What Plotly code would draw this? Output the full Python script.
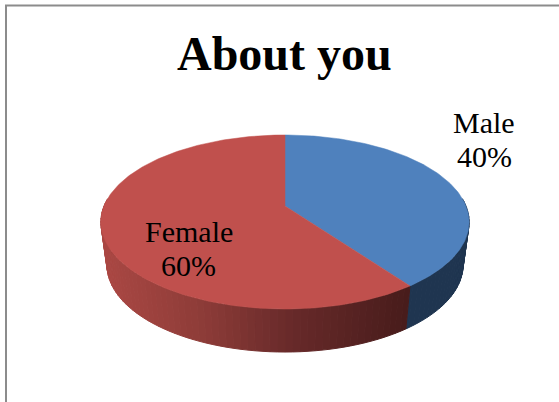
import math
import plotly.graph_objects as go

# Data
title_text = "About you"
categories = ["Male", "Female"]
values = [40, 60]
top_colors = ["#4f81bd", "#c0504d"]

# Projection of the tilted disc onto the page, in page pixels
W, H = 559, 402
CX, CY = 285, 206
RX = 181
PERSP = -0.1839
YA = 46.2
DEPTH = 43
BOTTOM_SCALE = 0.967


def rim(theta_deg, bottom=False):
    t = math.radians(theta_deg)
    u, v = math.sin(t), -math.cos(t)
    d = 1 + PERSP * v
    x = RX * u / d
    y = (YA * v + CY) / d
    if bottom:
        return CX + x * BOTTOM_SCALE, y + DEPTH
    return CX + x, y


def lerp_color(stops, x):
    for (x0, c0), (x1, c1) in zip(stops, stops[1:]):
        if x <= x1:
            f = max(0, (x - x0) / (x1 - x0))
            return "rgb({},{},{})".format(*[round(a + (b - a) * f) for a, b in zip(c0, c1)])
    return "rgb({},{},{})".format(*stops[-1][1])


wall_stops = [
    [(100, (31, 53, 80)), (469, (31, 53, 80))],
    [(100, (172, 72, 68)), (200, (142, 60, 56)), (290, (104, 42, 42)), (405, (72, 28, 27))],
]

fig = go.Figure()
total = sum(values)
angles = [0]
for val in values:
    angles.append(angles[-1] + 360 * val / total)

# Side wall, front half only, built from the slice angles
for i in range(len(values)):
    a0, a1 = max(angles[i], 85), min(angles[i + 1], 275)
    step = 2
    t = a0
    while t < a1:
        t2 = min(t + step, a1)
        p = [rim(t), rim(t2), rim(t2, True), rim(t, True), rim(t)]
        xm = sum(q[0] for q in p[:4]) / 4
        col = lerp_color(wall_stops[i], xm)
        fig.add_trace(go.Scatter(
            x=[q[0] for q in p], y=[q[1] for q in p], mode="lines",
            fill="toself", fillcolor=col, line=dict(color=col, width=1),
            hoverinfo="skip", showlegend=False,
        ))
        t = t2

# Top face slices
for i, cat in enumerate(categories):
    n = max(2, int(angles[i + 1] - angles[i]))
    pts = [rim(angles[i] + (angles[i + 1] - angles[i]) * k / n) for k in range(n + 1)]
    xs = [CX] + [q[0] for q in pts] + [CX]
    ys = [CY] + [q[1] for q in pts] + [CY]
    fig.add_trace(go.Scatter(
        x=xs, y=ys, mode="lines", fill="toself", fillcolor=top_colors[i],
        line=dict(color=top_colors[i], width=0.5), name=cat,
        hoverinfo="name", showlegend=False,
    ))

# Labels (two lines each, spaced as in the reference)
label_pos = {"Male": (484, 122), "Female": (188.5, 231)}
for cat, val in zip(categories, values):
    lx, ly = label_pos[cat]
    pct = f"{round(100 * val / total)}%"
    for txt, dy in ((cat, 0), (pct, 34)):
        fig.add_annotation(
            x=lx, y=ly + dy, text=txt, showarrow=False, xanchor="center", yanchor="middle",
            font=dict(family="Liberation Serif", size=30, color="#000000"),
        )

fig.add_annotation(
    x=284.5, y=53, text=f"<b>{title_text}</b>", showarrow=False, xanchor="center", yanchor="middle",
    font=dict(family="Liberation Serif", size=48, color="#000000"),
)

# Partial frame as cropped in the reference
FRAME = "#8c8c8c"
fig.add_shape(type="line", x0=5, x1=559, y0=5.5, y1=5.5, line=dict(color=FRAME, width=2))
fig.add_shape(type="line", x0=6, x1=6, y0=5, y1=402, line=dict(color=FRAME, width=2))

fig.update_layout(
    width=W, height=H, margin=dict(l=0, r=0, t=0, b=0),
    paper_bgcolor="#ffffff", plot_bgcolor="#ffffff",
    xaxis=dict(range=[0, W], visible=False, fixedrange=True),
    yaxis=dict(range=[H, 0], visible=False, fixedrange=True),
    showlegend=False,
)
fig.write_html(
    "out.html",
    config={"displayModeBar": False},
    post_script="document.body.style.margin='0';document.documentElement.style.overflow='hidden';",
)
